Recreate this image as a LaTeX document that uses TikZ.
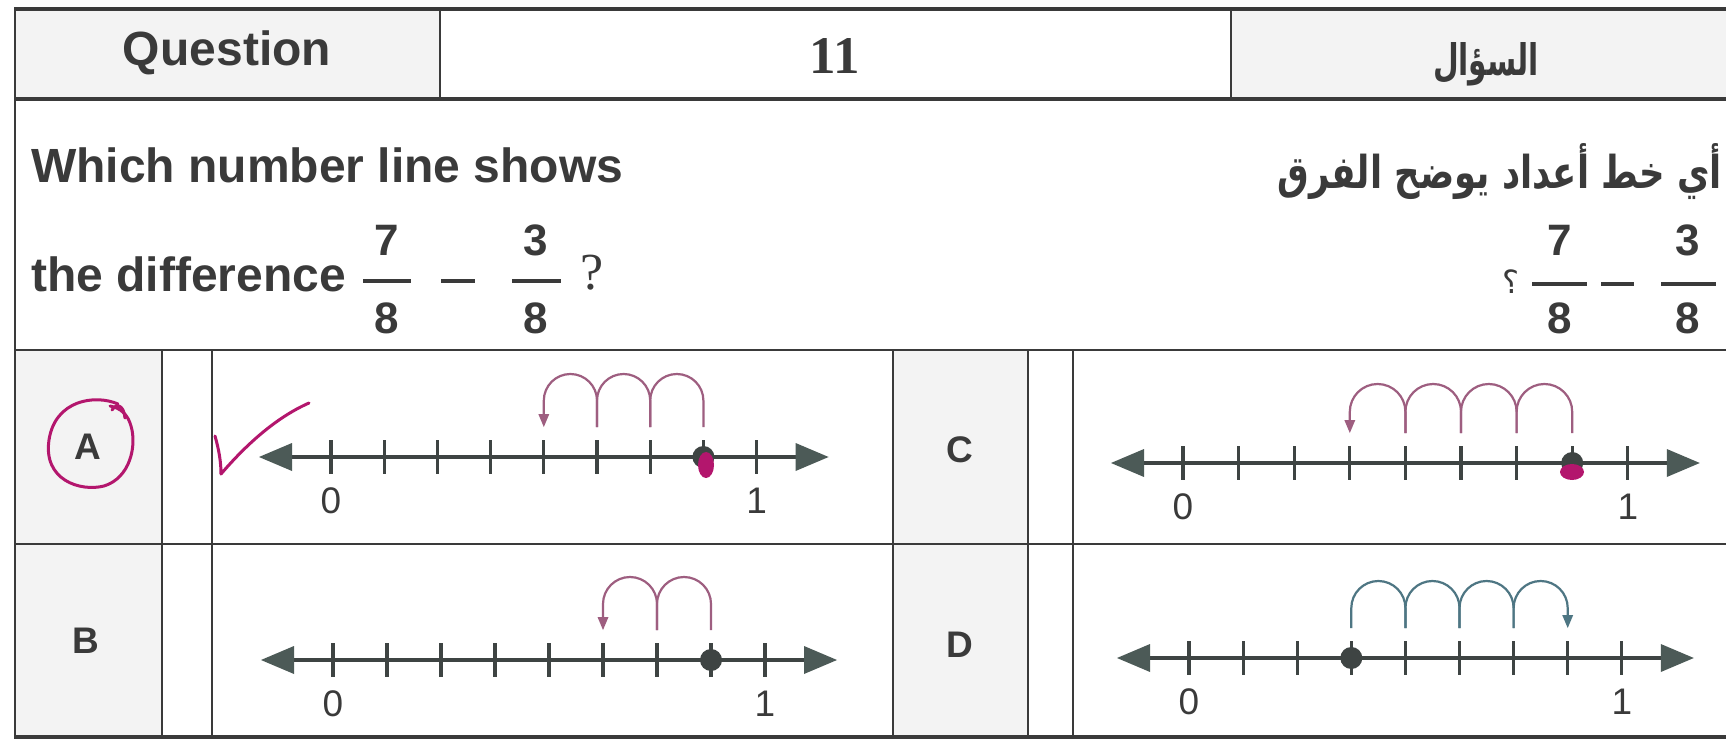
\documentclass[tikz,border=0pt]{standalone}
\usepackage{fontspec}
\usepackage{graphicx}
\setmainfont{Liberation Sans}
\newfontfamily\seriffont{Liberation Serif}
\newfontfamily\arabicfont[Script=Arabic]{DejaVu Sans}
\TeXXeTstate=1
\usetikzlibrary{arrows.meta,calc}
\definecolor{ink}{HTML}{3A3A3A}
\definecolor{axisc}{HTML}{3E4443}
\definecolor{tipc}{HTML}{4C5A57}
\definecolor{mauve}{HTML}{9E5E80}
\definecolor{tealc}{HTML}{4E7683}
\definecolor{marker}{HTML}{B3166D}
\definecolor{cellgray}{HTML}{F3F3F3}
\tikzset{
  gridline/.style={draw=ink, line width=2.5pt},
  heavyline/.style={draw=ink, line width=4pt},
  numaxis/.style={draw=axisc, line width=4.5pt,
    {Triangle[length=33pt,width=28pt,line width=0pt,color=tipc]}-{Triangle[length=33pt,width=28pt,line width=0pt,color=tipc]}},
  tickmark/.style={draw=axisc, line width=3.2pt},
  numlbl/.style={font=\fontsize{37}{42}\selectfont, text=ink, inner sep=0pt},
  optlbl/.style={font=\fontsize{37}{42}\selectfont\bfseries, text=ink, inner sep=0pt},
  txt/.style={font=\fontsize{48}{56}\selectfont\bfseries, text=ink, inner sep=0pt},
  fracdigit/.style={font=\fontsize{44}{50}\selectfont\bfseries, text=ink, inner sep=0pt},
  fracbar/.style={draw=ink, line width=3.5pt},
  jumpM/.style={draw=mauve, line width=2.2pt},
  jumpT/.style={draw=tealc, line width=2.2pt},
  jumpMend/.style={jumpM, -{Triangle[length=13pt,width=11pt,line width=0pt]}},
  jumpTend/.style={jumpT, -{Triangle[length=13pt,width=11pt,line width=0pt]}},
  numdot/.style={fill=axisc},
  markerline/.style={draw=marker, line width=3pt, line cap=round, line join=round},
}
% number line: #1 prefix, #2 x of 0, #3 spacing, #4 y
\newcommand{\NumLine}[4]{%
  \coordinate (#1L) at ({#2-72},#4);
  \coordinate (#1R) at ({#2+8*#3+72},#4);
  \draw[numaxis] (#1L) -- (#1R);
  \foreach \k in {0,...,8} {
    \coordinate (#1t\k) at ({#2+\k*#3},#4);
    \draw[tickmark] ($(#1t\k)+(0,-17)$) -- ($(#1t\k)+(0,17)$);
  }
  \node[numlbl] (#1zero) at ($(#1t0)+(0,44)$) {0};
  \node[numlbl] (#1one) at ($(#1t8)+(0,44)$) {1};
}
% jumps: #1 from, #2 to, #3 radius, #4 style, #5 height of top
\newcommand{\JumpL}[5]{%
  \draw[#4] ($(#1)+(0,-30)$) -- ($(#1)+(0,{-#5+#3})$) arc[start angle=0,end angle=-180,radius=#3] -- ($(#2)+(0,-30)$);
}
\newcommand{\JumpR}[5]{%
  \draw[#4] ($(#1)+(0,-30)$) -- ($(#1)+(0,{-#5+#3})$) arc[start angle=180,end angle=360,radius=#3] -- ($(#2)+(0,-30)$);
}
\begin{document}
\begin{tikzpicture}[x=1pt,y=-1pt]
\useasboundingbox (0,0) rectangle (1726,743);
\fill[white] (0,0) rectangle (1726,743);
% shaded label cells
\fill[cellgray] (15,9) rectangle (440,99);
\fill[cellgray] (1231,9) rectangle (1726,99);
\fill[cellgray] (15,350) rectangle (162,737);
\fill[cellgray] (893,350) rectangle (1028,737);
% table rules
\draw[heavyline] (14,9) -- (1726,9);
\draw[heavyline] (14,99) -- (1726,99);
\draw[gridline] (14,350) -- (1726,350);
\draw[gridline] (14,544) -- (1726,544);
\draw[heavyline] (14,737) -- (1726,737);
\draw[gridline] (15,9) -- (15,737);
\draw[gridline] (440,9) -- (440,99);
\draw[gridline] (1231,9) -- (1231,99);
\foreach \xx in {162,212,893,1028,1073} { \draw[gridline] (\xx,350) -- (\xx,737); }
% header
\node[txt] (qlabel) at (227,53) {Question};
\node[font=\fontsize{53}{60}\selectfont\seriffont\bfseries, text=ink, inner sep=0pt] (qnum) at (835,56) {11};
\node[anchor=base, inner sep=0pt, text=ink] (qarab) at (1486,76) {\resizebox{106pt}{33pt}{\arabicfont\bfseries\beginR السؤال\endR}};
% question text (English)
\node[txt, anchor=base west] (lineone) at (31,183) {Which number line shows};
\node[txt, anchor=base west] (linetwo) at (31,291) {the difference};
\node[fracdigit] (lnA) at (387,240) {7};
\draw[fracbar] (363,281) -- (411,281);
\node[fracdigit] (ldA) at (387,318) {8};
\draw[fracbar] (441,281) -- (475,281);
\node[fracdigit] (lnB) at (536,240) {3};
\draw[fracbar] (512,281) -- (561,281);
\node[fracdigit] (ldB) at (536,318) {8};
\node[font=\fontsize{52}{58}\selectfont\seriffont, text=ink, inner sep=0pt] (lq) at (592,273) {?};
% question text (Arabic)
\node[anchor=base east, inner sep=0pt, text=ink] (arline) at (1722,189) {\resizebox{444pt}{45pt}{\arabicfont\bfseries\beginR أي خط أعداد يوضح الفرق\endR}};
\node[font=\fontsize{32}{36}\selectfont\arabicfont, text=ink, inner sep=0pt] (rq) at (1511,282) {؟};
\node[fracdigit] (rnA) at (1560,240) {7};
\draw[fracbar] (1532,284) -- (1587,284);
\node[fracdigit] (rdA) at (1560,318) {8};
\draw[fracbar] (1601,284) -- (1634,284);
\node[fracdigit] (rnB) at (1688,240) {3};
\draw[fracbar] (1661,284) -- (1716,284);
\node[fracdigit] (rdB) at (1688,318) {8};
% option letters
\node[optlbl] (optA) at (88,447) {A};
\node[optlbl] (optB) at (86,641) {B};
\node[optlbl] (optC) at (960,450) {C};
\node[optlbl] (optD) at (960,645) {D};
% number line A
\NumLine{A}{331}{53.2}{457}
\JumpL{At7}{At6}{26.6}{jumpM}{83}
\JumpL{At6}{At5}{26.6}{jumpM}{83}
\JumpL{At5}{At4}{26.6}{jumpMend}{83}
\fill[numdot] (At7) circle[radius=11];
% number line B
\NumLine{B}{333}{54}{660}
\JumpL{Bt7}{Bt6}{27}{jumpM}{83}
\JumpL{Bt6}{Bt5}{27}{jumpMend}{83}
\fill[numdot] (Bt7) circle[radius=11];
% number line C
\NumLine{C}{1183}{55.6}{463}
\JumpL{Ct7}{Ct6}{27.8}{jumpM}{79}
\JumpL{Ct6}{Ct5}{27.8}{jumpM}{79}
\JumpL{Ct5}{Ct4}{27.8}{jumpM}{79}
\JumpL{Ct4}{Ct3}{27.8}{jumpMend}{79}
\fill[numdot] (Ct7) circle[radius=11];
% number line D
\NumLine{D}{1189}{54.1}{658}
\JumpR{Dt3}{Dt4}{27.05}{jumpT}{77}
\JumpR{Dt4}{Dt5}{27.05}{jumpT}{77}
\JumpR{Dt5}{Dt6}{27.05}{jumpT}{77}
\JumpR{Dt6}{Dt7}{27.05}{jumpTend}{77}
\fill[numdot] (Dt3) circle[radius=11];
% pen marks
\draw[markerline] (118,404) .. controls (95,394) and (55,400) .. (49,440)
  .. controls (43,480) and (80,492) .. (104,486)
  .. controls (130,478) and (137,446) .. (131,426)
  .. controls (128,415) and (121,408) .. (110,406);
\draw[markerline] (112,410) .. controls (117,402) and (124,406) .. (125,418);
\draw[markerline] (215,436) .. controls (219,450) and (221,462) .. (221,474)
  .. controls (245,446) and (275,418) .. (309,403);
\fill[marker] (706,465) ellipse[x radius=8, y radius=13];
\fill[marker] (1572,472) ellipse[x radius=12, y radius=8];
\end{tikzpicture}
\end{document}
